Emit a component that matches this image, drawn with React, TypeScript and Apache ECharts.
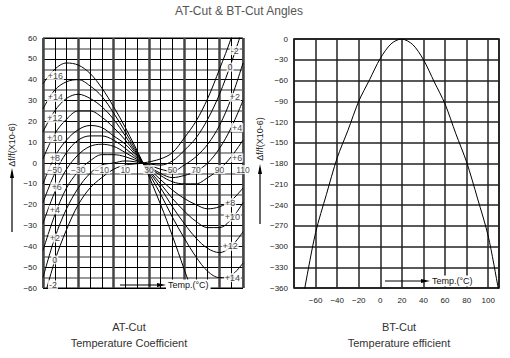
import React, { useEffect, useRef } from 'react';
import * as echarts from 'echarts';

const FONT = 'Liberation Sans, Arial, sans-serif';

// AT-cut: temperatures sampled and curve values (ppm) per angle offset
const atTemps = [-60, -50, -40, -30, -20, -10, 0, 10, 25, 40, 50, 60, 70, 80, 90, 100, 110];
const atNames = ['+16', '+14', '+12', '+10', '+8', '+6', '+4', '+2', '0', '-2'];
const atP16 = [38, 45, 48, 47, 43, 36, 27, 17, 0, -20, -35, -51, -67, -82, -97, -110, -122];
const atP14 = [26, 35, 39, 40, 37, 32, 24, 15, 0, -15, -26, -36, -45, -52, -55, -54, -48];
const atP12 = [15, 25, 31, 33, 31, 27, 21, 13, 0, -12, -21, -29, -36, -41, -43, -40, -33];
const atP10 = [2, 14, 21, 25, 25, 22, 17, 11, 0, -10, -17, -23, -28, -31, -31, -27, -19];
const atP8 = [-10, 3, 11, 16, 18, 17, 13, 9, 0, -8, -13, -17, -20, -22, -21, -18, -12];
const atP6 = [-19, -5, 5, 11, 13, 13, 11, 7, 0, -6, -9, -10, -10, -7, -3, 3, 11];
const atP4 = [-29, -14, -3, 4, 8, 9, 8, 5, 0, -5, -7, -6, -4, 0, 7, 17, 30];
const atP2 = [-42, -25, -12, -4, 1, 4, 4, 3, 0, -3, -4, -1, 3, 9, 18, 31, 48];
const atZ0 = [-55, -36, -22, -12, -5, -1, 0, 1, 0, -1, 1, 6, 12, 21, 33, 48, 65];
const atM2 = [-67, -47, -32, -20, -12, -7, -3, -1, 0, 2, 5, 12, 20, 31, 45, 60, 78];
const atCurves = [atP16, atP14, atP12, atP10, atP8, atP6, atP4, atP2, atZ0, atM2];

// temperature tick labels drawn on the zero line of the AT-cut chart
const atTempTicks = [-50, -30, -10, 10, 30, 50, 70, 90, 110];

// curve annotation anchors (temperature, ppm)
const atLeftLabelT = [-49.5, -49.5, -50, -50, -50, -48.5, -50, -50, -50, -51.5];
const atLeftLabelV = [42, 31.5, 21.5, 12, 2.5, -11.5, -22.5, -36, -46.5, -58.5];
const atRightNames = ['-2', '0', '+2', '+4', '+6', '+8', '+10', '+12', '+14'];
const atRightLabelT = [103, 99, 103, 105, 105, 99, 101, 99, 101];
const atRightLabelV = [54, 46, 31.5, 17, 2.5, -19, -26, -40, -55];

// BT-cut
const btTemps = [-72, -70, -60, -50, -40, -30, -20, -10, 0, 10, 19.5, 30, 40, 50, 60, 70, 80, 90, 100, 110, 112];
const btValues = [-378, -360, -280, -225, -172, -132, -90, -59, -28, -7, 0, -8, -30, -62, -94, -137, -178, -230, -285, -366, -382];

const fmtNum = (v: number) => (v < 0 ? '\u2212' + Math.abs(v) : String(v));

const tickLabel = { fontSize: 8, color: '#222', fontFamily: FONT };

function buildOption(): any {
  const atSeries = atCurves.map((vals, i) => ({
    type: 'line',
    name: atNames[i],
    xAxisIndex: 0,
    yAxisIndex: 0,
    data: atTemps.map((t, j) => [t, vals[j]]),
    smooth: 0.35,
    symbol: 'none',
    clip: true,
    lineStyle: { color: '#000', width: 1 },
    z: 3,
  }));

  const labelSeries = (names: string[], ts: number[], vs: number[]) => ({
    type: 'scatter',
    xAxisIndex: 0,
    yAxisIndex: 0,
    symbol: 'circle',
    symbolSize: 0.1,
    itemStyle: { color: 'rgba(0,0,0,0)' },
    z: 5,
    data: names.map((n, i) => ({ name: n, value: [ts[i], vs[i]] })),
    label: {
      show: true,
      position: 'inside',
      formatter: (p: any) => p.name,
      fontSize: 9,
      color: '#111',
      fontFamily: FONT,
      backgroundColor: '#fff',
      padding: [0, 1],
    },
  });

  return {
    animation: false,
    backgroundColor: '#fff',
    grid: [
      { left: 43, top: 38, width: 200, height: 250, show: true, borderColor: '#000', borderWidth: 1, backgroundColor: 'transparent' },
      { left: 294, top: 39, width: 205, height: 249, show: true, borderColor: '#000', borderWidth: 1.5, backgroundColor: 'transparent' },
    ],
    xAxis: [
      {
        type: 'value', gridIndex: 0, min: -60, max: 110, interval: 10,
        axisLine: { show: false }, axisTick: { show: false }, axisLabel: { show: false },
        splitLine: { show: true, lineStyle: { color: '#000', width: 1 } },
      },
      {
        type: 'value', gridIndex: 0, min: -60, max: 110, interval: 30, position: 'top',
        axisLine: { show: false }, axisTick: { show: false }, axisLabel: { show: false },
        splitLine: { show: true, lineStyle: { color: '#444', width: 2.5 } },
      },
      {
        type: 'value', gridIndex: 1, min: -80, max: 110, interval: 20, position: 'bottom',
        axisLine: { show: false, onZero: false }, axisTick: { show: false },
        axisLabel: { ...tickLabel, margin: 8, showMinLabel: false, showMaxLabel: false, formatter: fmtNum },
        splitLine: { show: true, lineStyle: { color: '#222', width: 1.5 } },
      },
    ],
    yAxis: [
      {
        type: 'value', gridIndex: 0, min: -60, max: 60, interval: 10,
        axisLine: { show: false, onZero: false }, axisTick: { show: false },
        axisLabel: { ...tickLabel, margin: 6, formatter: fmtNum },
        splitLine: { show: true, lineStyle: { color: '#000', width: 1 } },
        minorTick: { show: false, splitNumber: 2 },
        minorSplitLine: { show: true, lineStyle: { color: '#999', width: 2 } },
      },
      {
        type: 'value', gridIndex: 1, min: -360, max: 0, interval: 30,
        axisLine: { show: false, onZero: false }, axisTick: { show: false },
        axisLabel: { ...tickLabel, margin: 6, formatter: fmtNum },
        splitLine: { show: true, lineStyle: { color: '#222', width: 1.5 } },
      },
    ],
    series: [
      ...atSeries,
      {
        type: 'scatter',
        xAxisIndex: 0,
        yAxisIndex: 0,
        symbol: 'circle',
        symbolSize: 0.1,
        itemStyle: { color: 'rgba(0,0,0,0)' },
        z: 4,
        data: atTempTicks.map((t) => [t, 0]),
        label: {
          show: true,
          position: 'bottom',
          distance: 2,
          formatter: (p: any) => fmtNum(p.value[0]),
          ...tickLabel,
          fontSize: 8.5,
          backgroundColor: '#fff',
          padding: [0, 1],
        },
      },
      labelSeries(atNames, atLeftLabelT, atLeftLabelV),
      labelSeries(atRightNames, atRightLabelT, atRightLabelV),
      {
        type: 'line',
        xAxisIndex: 2,
        yAxisIndex: 1,
        data: btTemps.map((t, i) => [t, btValues[i]]),
        smooth: 0.3,
        symbol: 'none',
        clip: true,
        lineStyle: { color: '#000', width: 1 },
        z: 3,
      },
    ],
    graphic: [
      { type: 'text', x: 239, y: 11, z: 100, style: { text: 'AT-Cut & BT-Cut Angles', fill: '#555', fontSize: 12, fontFamily: FONT, align: 'center', verticalAlign: 'middle' } },
      // left y title + arrow
      { type: 'text', x: 12, y: 145, rotation: Math.PI / 2, z: 100, style: { text: 'Δf/f(X10-6)', fill: '#222', fontSize: 9, fontFamily: FONT, align: 'center', verticalAlign: 'middle' } },
      { type: 'line', z: 100, shape: { x1: 12, y1: 232, x2: 12, y2: 172 }, style: { stroke: '#000', lineWidth: 1.2 } },
      { type: 'polygon', z: 100, shape: { points: [[12, 168], [10, 178], [14, 178]] }, style: { fill: '#000' } },
      // right y title + arrow
      { type: 'text', x: 260, y: 139, rotation: Math.PI / 2, z: 100, style: { text: 'Δf/f(X10-6)', fill: '#222', fontSize: 9, fontFamily: FONT, align: 'center', verticalAlign: 'middle' } },
      { type: 'line', z: 100, shape: { x1: 260, y1: 224, x2: 260, y2: 168 }, style: { stroke: '#000', lineWidth: 1.2 } },
      { type: 'polygon', z: 100, shape: { points: [[260, 164], [258, 174], [262, 174]] }, style: { fill: '#000' } },
      // left temp arrow
      { type: 'line', z: 100, shape: { x1: 120, y1: 285, x2: 160, y2: 285 }, style: { stroke: '#000', lineWidth: 1.2 } },
      { type: 'polygon', z: 100, shape: { points: [[166, 285], [157, 283], [157, 287]] }, style: { fill: '#000' } },
      { type: 'text', x: 166, y: 285, z: 100, style: { text: 'Temp.(°C)', fill: '#111', fontSize: 9, fontFamily: FONT, align: 'left', verticalAlign: 'middle', backgroundColor: '#fff', padding: [1, 2] } },
      // right temp arrow
      { type: 'line', z: 100, shape: { x1: 385, y1: 281, x2: 424, y2: 281 }, style: { stroke: '#000', lineWidth: 1.2 } },
      { type: 'polygon', z: 100, shape: { points: [[430, 281], [421, 279], [421, 283]] }, style: { fill: '#000' } },
      { type: 'text', x: 430, y: 281, z: 100, style: { text: 'Temp.(°C)', fill: '#111', fontSize: 9, fontFamily: FONT, align: 'left', verticalAlign: 'middle', backgroundColor: '#fff', padding: [1, 2] } },
      // captions
      { type: 'text', x: 129, y: 327, z: 100, style: { text: 'AT-Cut', fill: '#333', fontSize: 11, fontFamily: FONT, align: 'center', verticalAlign: 'middle' } },
      { type: 'text', x: 129, y: 343, z: 100, style: { text: 'Temperature Coefficient', fill: '#333', fontSize: 11, fontFamily: FONT, align: 'center', verticalAlign: 'middle' } },
      { type: 'text', x: 399, y: 327, z: 100, style: { text: 'BT-Cut', fill: '#333', fontSize: 11, fontFamily: FONT, align: 'center', verticalAlign: 'middle' } },
      { type: 'text', x: 399, y: 343, z: 100, style: { text: 'Temperature efficient', fill: '#333', fontSize: 11, fontFamily: FONT, align: 'center', verticalAlign: 'middle' } },
    ],
  };
}

export default function App() {
  const ref = useRef<HTMLDivElement>(null);
  useEffect(() => {
    if (!ref.current) return;
    const chart = echarts.init(ref.current, null, { renderer: 'svg' });
    chart.setOption(buildOption());
    return () => chart.dispose();
  }, []);
  return <div ref={ref} style={{ position: 'fixed', left: 0, top: 0, width: 510, height: 358 }} />;
}
